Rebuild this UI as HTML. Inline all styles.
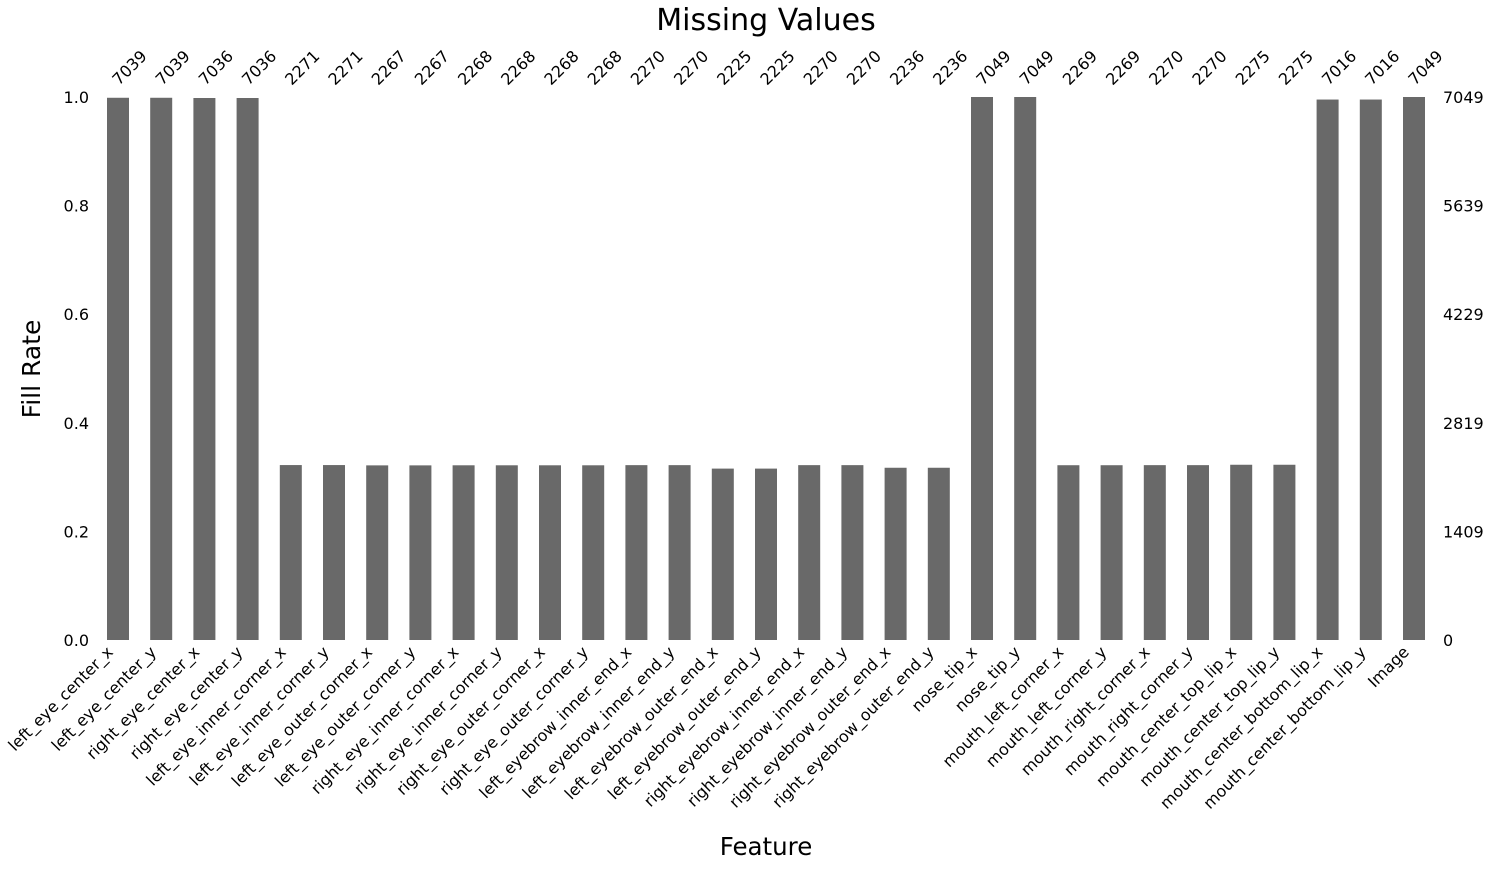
<!DOCTYPE html>
<html><head><meta charset="utf-8"><style>
body{margin:0;background:#fff}
svg text{font-family:"DejaVu Sans","Liberation Sans",sans-serif;fill:#000}
</style></head><body>
<svg id="chart" width="1490" height="867" xmlns="http://www.w3.org/2000/svg">
<text x="766" y="30" font-size="30" text-anchor="middle">Missing Values</text>
<text transform="translate(40,369) rotate(-90)" font-size="25" text-anchor="middle">Fill Rate</text>
<text x="766" y="855" font-size="24.5" text-anchor="middle">Feature</text>
<g id="bars"></g>
<g id="axes"></g>
</svg>
<script>
const categories=["left_eye_center_x","left_eye_center_y","right_eye_center_x","right_eye_center_y","left_eye_inner_corner_x","left_eye_inner_corner_y","left_eye_outer_corner_x","left_eye_outer_corner_y","right_eye_inner_corner_x","right_eye_inner_corner_y","right_eye_outer_corner_x","right_eye_outer_corner_y","left_eyebrow_inner_end_x","left_eyebrow_inner_end_y","left_eyebrow_outer_end_x","left_eyebrow_outer_end_y","right_eyebrow_inner_end_x","right_eyebrow_inner_end_y","right_eyebrow_outer_end_x","right_eyebrow_outer_end_y","nose_tip_x","nose_tip_y","mouth_left_corner_x","mouth_left_corner_y","mouth_right_corner_x","mouth_right_corner_y","mouth_center_top_lip_x","mouth_center_top_lip_y","mouth_center_bottom_lip_x","mouth_center_bottom_lip_y","Image"];
const counts=[7039,7039,7036,7036,2271,2271,2267,2267,2268,2268,2268,2268,2270,2270,2225,2225,2270,2270,2236,2236,7049,7049,2269,2269,2270,2270,2275,2275,7016,7016,7049];
const total=7049;
const leftTicks=[0,0.2,0.4,0.6,0.8,1.0];
const rightTicks=["0","1409","2819","4229","5639","7049"];
const NS="http://www.w3.org/2000/svg";
const x0=118,dx=43.2,bw=22,yb=640,yt=97;
const X=i=>x0+i*dx;
const Y=v=>yb-v*(yb-yt);
const bars=document.getElementById('bars'),axes=document.getElementById('axes');
function mk(tag,attrs,parent,txt){const e=document.createElementNS(NS,tag);for(const k in attrs)e.setAttribute(k,attrs[k]);if(txt!==undefined)e.textContent=txt;parent.appendChild(e);return e;}
categories.forEach((c,i)=>{
  const v=counts[i]/total;
  const r=mk('rect',{x:X(i)-bw/2,y:Y(v),width:bw,height:yb-Y(v),fill:'#696969'},bars);
  
  
  const t=mk('text',{transform:`translate(${X(i)+1},${86}) rotate(-45)`,'font-size':16},bars,counts[i]);
  
  
  const l=mk('text',{transform:`translate(${X(i)-4},${yb+13}) rotate(-45)`,'font-size':16,'text-anchor':'end'},axes,c);
  
  
});
leftTicks.forEach((v,i)=>{
  const t=mk('text',{x:89,y:Y(v)+6,'font-size':16,'text-anchor':'end'},axes,v.toFixed(1));
  
  
  const r=mk('text',{x:1443,y:Y(v)+6,'font-size':16},axes,rightTicks[i]);
  
  
});
</script>
</body></html>
